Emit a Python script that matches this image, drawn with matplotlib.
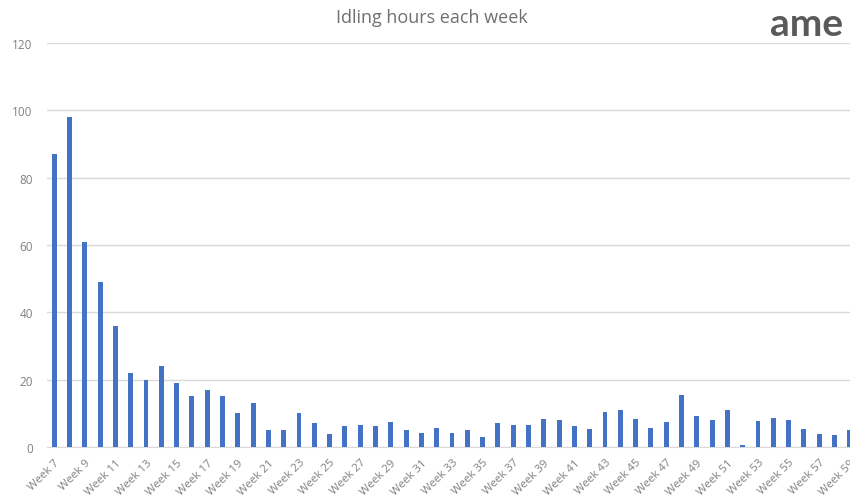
import numpy as np
import matplotlib
matplotlib.use('Agg')
import matplotlib.pyplot as plt

weeks = list(range(7, 60))
hours = [87, 98, 61, 49, 36, 22, 20, 24, 19, 15,
         17, 15, 10, 13, 5, 5, 10, 7, 4, 6.3,
         6.6, 6.2, 7.5, 5, 4.3, 5.5, 4.1, 5, 3.1, 7.2,
         6.4, 6.4, 8.3, 8.1, 6.2, 5.3, 10.5, 11, 8.3, 5.5,
         7.4, 15.4, 9.2, 8, 11, 0.5, 7.6, 8.5, 8.1, 5.3,
         3.9, 3.7, 5]
week_labels = ['Week ' + str(w) for w in weeks[::2]]
y_ticks = [0, 20, 40, 60, 80, 100, 120]

plt.rcParams['font.family'] = ['Open Sans', 'DejaVu Sans']

fig = plt.figure(figsize=(8.5, 5.02), dpi=100)
# plot area runs past the right edge (reference is cropped)
ax = fig.add_axes([0.0548, 0.1076, 0.954, 0.805])

x = np.arange(len(weeks))
ax.bar(x, hours, width=0.32, color='#4472C4', zorder=3)

ax.set_xlim(-0.5, len(weeks) - 0.5)
ax.set_ylim(0, 120)
ax.set_yticks(y_ticks)
ax.set_yticklabels([str(t) for t in y_ticks], fontsize=8.5, color='#808080')
ax.set_xticks(x[::2])
ax.set_xticklabels(week_labels, rotation=45, ha='right', rotation_mode='anchor',
                   fontsize=8.2, color='#808080')
ax.tick_params(axis='both', length=0)
ax.tick_params(axis='y', pad=10)
ax.tick_params(axis='x', pad=7)

ax.grid(axis='y', color='#D9D9D9', linewidth=1, zorder=0)
for s in ['top', 'right', 'left']:
    ax.spines[s].set_visible(False)
ax.spines['bottom'].set_color('#D9D9D9')

fig.text(0.508, 0.964, 'Idling hours each week', ha='center', va='center',
         fontsize=13, color='#707070')
fig.text(0.906, 0.952, 'ame', ha='left', va='center', fontsize=28,
         fontweight='bold', color='#5a5a5a', family=['Lato', 'DejaVu Sans'])

fig.savefig('out.png', dpi=100)
